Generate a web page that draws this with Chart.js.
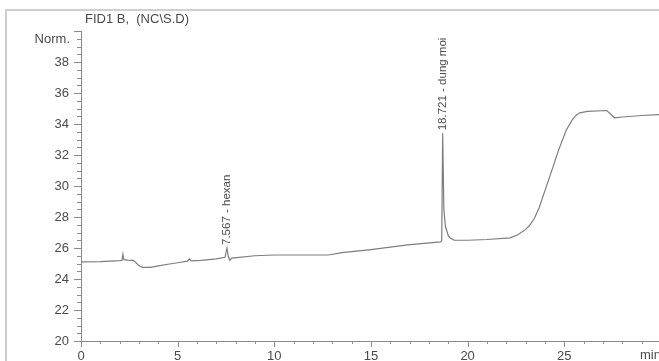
<!DOCTYPE html>
<html><head><meta charset="utf-8">
<script src="https://cdn.jsdelivr.net/npm/chart.js@4"></script>
<style>html,body{margin:0;padding:0;background:#fff;overflow:hidden}#wrap{width:659px;height:361px;position:relative}</style>
</head><body><div id="wrap"><canvas id="c" width="659" height="361"></canvas></div>
<script>
const times  = [0, 1.0, 2.0, 2.12, 2.17, 2.22, 2.4, 2.7, 2.85, 3.0, 3.2, 3.6, 4.0, 4.5, 5.0, 5.5, 5.6, 5.7, 6.2, 7.0, 7.45, 7.55, 7.62, 7.7, 7.8, 9.0, 10.0, 12.0, 12.8, 13.5, 15.0, 16.9, 18.6, 18.66, 18.71, 18.77, 18.85, 19.0, 19.1, 19.3, 20.0, 21.0, 22.2, 22.6, 23.0, 23.2, 23.45, 23.7, 24.0, 24.3, 24.7, 25.1, 25.4, 25.6, 25.8, 26.2, 27.2, 27.6, 28.0, 29.0, 29.9];
const signal = [25.1, 25.12, 25.18, 25.2, 25.6, 25.25, 25.22, 25.2, 25.05, 24.85, 24.75, 24.75, 24.85, 24.95, 25.05, 25.15, 25.3, 25.17, 25.2, 25.3, 25.4, 26.0, 25.45, 25.2, 25.35, 25.5, 25.55, 25.55, 25.55, 25.7, 25.9, 26.2, 26.4, 26.45, 33.4, 28.5, 27.4, 26.8, 26.65, 26.5, 26.5, 26.55, 26.65, 26.85, 27.2, 27.45, 27.9, 28.6, 29.7, 30.8, 32.3, 33.6, 34.25, 34.55, 34.72, 34.82, 34.87, 34.4, 34.45, 34.55, 34.6];
const xTickValues = [0, 5, 10, 15, 20, 25];
const yTickValues = [20, 22, 24, 26, 28, 30, 32, 34, 36, 38];
const peakTimes = [7.567, 18.721];
const peakNames = ['hexan', 'dung moi'];
const titleText = 'FID1 B,  (NC\\S.D)';
const yUnit = 'Norm.';
const xUnit = 'min';

const TXT = '#4a4a4a', AX = '#8a8a8a';
const FAM = '"Liberation Sans", Arial, sans-serif';
const FONT = '13px ' + FAM;
const PFONT = '11.5px ' + FAM;

const decor = {
  id: 'decor',
  beforeDraw(chart) {
    const c = chart.ctx; c.save();
    c.fillStyle = '#fff'; c.fillRect(0, 0, chart.width, chart.height);
    c.strokeStyle = '#cfcfcf'; c.lineWidth = 2;
    c.beginPath(); c.moveTo(6, 361); c.lineTo(6, 10); c.lineTo(659, 10); c.stroke();
    c.restore();
  },
  afterDraw(chart) {
    const c = chart.ctx, xs = chart.scales.x, ys = chart.scales.y, a = chart.chartArea;
    c.save();
    c.strokeStyle = AX; c.lineWidth = 1;
    c.beginPath();
    for (let v = 20; v <= 40.001; v += 0.5) {
      const y = Math.round(ys.getPixelForValue(v)) + 0.5;
      const len = (Math.abs(v % 2) < 1e-6) ? 7 : 4;
      c.moveTo(a.left - len, y); c.lineTo(a.left, y);
    }
    for (let v = 0; v <= 29.9; v += 1) {
      const x = Math.round(xs.getPixelForValue(v)) + 0.5;
      const len = (v % 5 === 0) ? 6 : 3;
      c.moveTo(x, a.bottom); c.lineTo(x, a.bottom + len);
    }
    c.stroke();
    c.fillStyle = TXT; c.font = FONT;
    c.textBaseline = 'middle';
    c.textAlign = 'left'; c.fillText(titleText, 85, 19);
    c.textAlign = 'right'; c.fillText(yUnit, 70, 39);
    c.textAlign = 'left'; c.fillText(xUnit, 640, 355);
    c.font = PFONT;
    for (let i = 0; i < peakTimes.length; i++) {
      let best = -Infinity;
      for (let k = 0; k < times.length; k++) if (Math.abs(times[k] - peakTimes[i]) < 0.15) best = Math.max(best, signal[k]);
      const px = xs.getPixelForValue(peakTimes[i]);
      const py = ys.getPixelForValue(best) - 3;
      c.save(); c.translate(px, py); c.rotate(-Math.PI / 2);
      c.textAlign = 'left'; c.textBaseline = 'middle';
      c.fillText(peakTimes[i].toFixed(3) + ' - ' + peakNames[i], 0, 0);
      c.restore();
    }
    c.restore();
  }
};

new Chart(document.getElementById('c'), {
  type: 'line',
  data: { datasets: [{ data: times.map((t, i) => ({ x: t, y: signal[i] })), borderColor: '#7d7d7d', borderWidth: 1.2, pointRadius: 0, tension: 0, fill: false }] },
  options: {
    responsive: false, animation: false, devicePixelRatio: 1,
    layout: { padding: { top: 31, right: 0, left: 0, bottom: 0 } },
    plugins: { legend: { display: false }, tooltip: { enabled: false }, title: { display: false } },
    scales: {
      x: {
        type: 'linear', min: 0, max: 29.9,
        grid: { display: false, drawTicks: false },
        border: { display: true, color: AX, width: 1 },
        ticks: { stepSize: 5, padding: 8, color: TXT, font: { family: FAM, size: 13 }, maxRotation: 0, autoSkip: false,
          callback: v => xTickValues.includes(v) ? String(v) : '' },
        afterFit(s) { s.height = 20; s.paddingLeft = 0; s.paddingRight = 0; }
      },
      y: {
        min: 20, max: 40,
        grid: { display: false, drawTicks: false },
        border: { display: true, color: AX, width: 1 },
        ticks: { stepSize: 2, padding: 12, color: TXT, font: { family: FAM, size: 13 },
          callback: v => yTickValues.includes(v) ? String(v) : '' },
        afterFit(s) { s.width = 81; s.paddingTop = 0; s.paddingBottom = 0; }
      }
    }
  },
  plugins: [decor]
});
</script></body></html>
